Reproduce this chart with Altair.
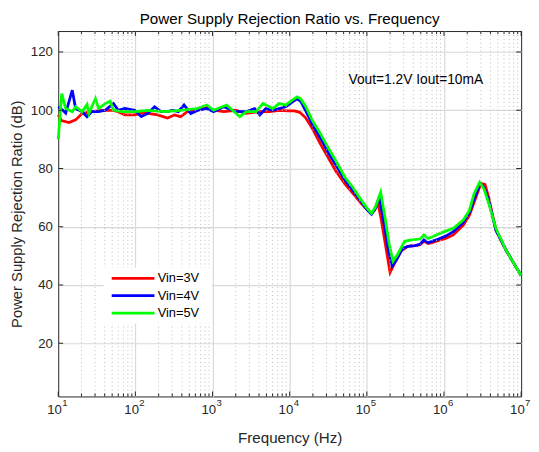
import altair as alt
import pandas as pd

# ---------------- data ----------------
series_names = ["Vin=3V", "Vin=4V", "Vin=5V"]
series_colors = ["#ff0000", "#0000ff", "#00ff00"]

freq_3v = [10, 11, 13.8, 16.8, 20.4, 27, 36.8, 50, 60, 73, 98, 120, 145, 195, 260, 318, 386, 470,
           631, 847, 1030, 1400, 2000, 2700, 4100, 5500, 7300, 9500, 11500, 13500, 16000, 19500,
           25000, 31600, 40000, 52000, 66000, 85000, 100000, 115000, 126000, 138000, 150000, 170000,
           200000, 230000, 276000, 340000, 420000, 490000, 550000, 620000, 700000, 850000, 1.05e6,
           1.32e6, 1.78e6, 2.14e6, 2.6e6, 3.0e6, 3.4e6, 3.8e6, 4.7e6, 6.3e6, 8e6, 1e7]
psrr_3v = [98.4, 96.5, 95.8, 96.7, 98.9, 99.5, 100, 100, 99.5, 98.4, 98.4, 99, 98.9, 98.4, 97.3, 98.4,
           97.8, 99.5, 100, 101.2, 100, 99.5, 100, 98.9, 99.5, 99.5, 100, 99.8, 99.8, 99.3, 97.5, 93.9,
           88.5, 83.7, 79, 74.7, 71.5, 68, 66, 64.6, 65.7, 68.5, 64, 55.5, 44.3, 47.6, 51.6, 53.3, 53.5,
           53.8, 55, 54.2, 54.5, 55.3, 56, 57.2, 60.6, 64, 70.2, 74.8, 74.5, 70, 58.9, 52.2, 47.5, 43.3]

freq_4v = [10, 11.5, 12.5, 15.2, 16.8, 20.4, 23.6, 27, 33.3, 40.6, 52, 60, 73, 98, 119, 145, 177, 215,
           260, 302, 360, 427, 520, 650, 847, 1030, 1400, 2000, 2700, 3500, 4100, 4900, 6000, 7300,
           8900, 11000, 12500, 14000, 16000, 19500, 25000, 31600, 40000, 52000, 66000, 85000, 100000,
           115000, 130000, 145000, 165000, 190000, 213000, 240000, 290000, 340000, 420000, 490000,
           550000, 620000, 700000, 850000, 1.05e6, 1.32e6, 1.78e6, 2.14e6, 2.5e6, 2.95e6, 3.3e6,
           3.8e6, 4.7e6, 6.3e6, 8e6, 1e7]
psrr_4v = [101.2, 100, 99, 106.9, 100.6, 99.5, 97.8, 99.5, 99.5, 100, 102.3, 100, 100.6, 100, 97.8,
           98.9, 101.2, 99.5, 99.5, 100, 99.5, 101.8, 98.9, 100, 100.6, 99.5, 101.2, 99.5, 99.5, 100.6,
           98.4, 100.6, 100, 100.6, 101.2, 103, 103.9, 103, 100, 95.3, 90.5, 85.5, 81, 76, 72.5, 68.5,
           66, 64.3, 66.5, 70.3, 62, 52, 46.5, 48.5, 52.5, 53.3, 53.5, 54, 55.5, 54.5, 55, 55.8, 56.8,
           58.3, 61.5, 65, 70, 75, 73.5, 69, 58.9, 52.2, 47.5, 43.3]

freq_5v = [10, 11.1, 12.5, 15.2, 16.8, 20.4, 23.6, 24.9, 30.3, 33.3, 40.6, 47.1, 51.9, 66.2, 98, 145,
           237, 386, 631, 847, 1030, 1523, 2254, 2742, 3680, 4487, 6014, 7311, 8897, 10800, 12500,
           13800, 16000, 19500, 25000, 31600, 40000, 52000, 66000, 83000, 100000, 115000, 130000,
           151000, 170000, 195000, 218000, 250000, 309000, 380000, 490000, 550000, 620000, 700000,
           850000, 1.05e6, 1.32e6, 1.78e6, 2.14e6, 2.45e6, 2.9e6, 3.3e6, 3.8e6, 4.7e6, 6.3e6, 8e6, 1e7]
psrr_5v = [90, 105.7, 100.6, 99.5, 101.2, 99.5, 102, 98.9, 104, 100.6, 102.3, 103.1, 100.1, 99.5, 99.5,
           100, 99.5, 100, 100.6, 101.8, 100, 101.8, 97.8, 99.5, 99.5, 102.3, 100.6, 102.3, 101.8,
           103.5, 104.6, 104, 101.5, 96.7, 92, 87.1, 82.5, 77, 73.5, 69.5, 66.5, 64.6, 67, 71.9, 64,
           54, 48.2, 50.5, 55, 55.5, 55.8, 57.2, 56, 56.5, 57.5, 58.5, 59.5, 62.3, 65.7, 71.3, 75.3,
           73, 68, 59.5, 52.2, 47.5, 43.3]

decade_exponents = ["1", "2", "3", "4", "5", "6", "7"]
y_tick_values = [20, 40, 60, 80, 100, 120]
annotation_text = ["Vout=1.2V Iout=10mA"]
annotation_freq = [57800]
annotation_psrr = [110.2]

# ---------------- tables ----------------
rows = []
for name, fs, vs in zip(series_names, [freq_3v, freq_4v, freq_5v], [psrr_3v, psrr_4v, psrr_5v]):
    for f, v in zip(fs, vs):
        rows.append({"series": name, "freq": f, "psrr": v})
df = pd.DataFrame(rows)

decades = [10 ** int(e) for e in decade_exponents]
minors = [m * 10 ** k for k in range(1, 7) for m in range(2, 10)]
dec_df = pd.DataFrame({"f": decades, "base": ["10"] * len(decades), "exp": decade_exponents})
minor_df = pd.DataFrame({"f": minors})
ytick_df = pd.DataFrame({"v": y_tick_values})
ann_df = pd.DataFrame({"f": annotation_freq, "v": annotation_psrr, "t": annotation_text})

# ---------------- styling ----------------
FONT = "Liberation Sans"
W, H = 470, 371
AX = "#262626"
xscale = alt.Scale(type="log", domain=[10, 1e7], nice=False)
yscale = alt.Scale(domain=[1.74, 127.2], nice=False, zero=False)

xaxis = alt.Axis(values=decades[1:-1], labels=False, ticks=False, domain=False, grid=True,
                 gridColor="#d9d9d9", gridWidth=1.2, title="Frequency (Hz)", titleFont=FONT,
                 titleFontSize=15.4, titleFontWeight="normal", titleColor=AX, titleX=W / 2,
                 titleY=47, titleBaseline="alphabetic", titleAlign="center")
yaxis = alt.Axis(values=y_tick_values, ticks=False, domain=False, grid=True, gridColor="#d9d9d9",
                 gridWidth=1.2, labelFont=FONT, labelFontSize=13.4, labelColor=AX, labelPadding=6,
                 title="Power Supply Rejection Ratio (dB)", titleFont=FONT, titleFontSize=15,
                 titleFontWeight="normal", titleColor=AX, titleX=-37.5, titleY=H / 2, titleAngle=-90,
                 titleBaseline="alphabetic", titleAlign="center")


def X(field):
    return alt.X(field, scale=xscale, axis=xaxis)


def Y(field):
    return alt.Y(field, scale=yscale, axis=yaxis)


layers = []

# data lines (first, so the axes are defined here)
layers.append(alt.Chart(df).mark_line(strokeWidth=2.8).encode(
    x=X("freq:Q"),
    y=Y("psrr:Q"),
    color=alt.Color("series:N", scale=alt.Scale(domain=series_names, range=series_colors), legend=None),
))

# minor dotted grid
layers.append(alt.Chart(minor_df).mark_rule(color="#bdbdbd", strokeWidth=1, strokeDash=[1, 3]).encode(
    x=X("f:Q"), y=alt.value(0), y2=alt.value(H)))

# legend (manual guide)
layers.append(alt.Chart(ann_df).mark_rect(fill="white").encode(
    x=alt.value(46), x2=alt.value(156), y=alt.value(240), y2=alt.value(297)))
for i, (name, col) in enumerate(zip(series_names, series_colors)):
    yy = 251 + i * 17.7
    layers.append(alt.Chart(ann_df).mark_rule(color=col, strokeWidth=2.8).encode(
        x=alt.value(54.3), x2=alt.value(97.7), y=alt.value(yy)))
    layers.append(alt.Chart(ann_df).mark_text(text=name, align="left", baseline="middle", font=FONT,
                                              fontSize=13, color="black").encode(
        x=alt.value(101), y=alt.value(yy)))

# annotation
layers.append(alt.Chart(ann_df).mark_text(align="left", baseline="middle", font=FONT, fontSize=14,
                                          color="black").encode(
    x=X("f:Q"), y=Y("v:Q"), text="t:N"))

# inward ticks
tick_style = dict(color=AX, strokeWidth=1)
layers.append(alt.Chart(dec_df).mark_rule(**tick_style).encode(
    x=X("f:Q"), y=alt.value(H - 5), y2=alt.value(H)))
layers.append(alt.Chart(dec_df).mark_rule(**tick_style).encode(
    x=X("f:Q"), y=alt.value(0), y2=alt.value(5)))
layers.append(alt.Chart(minor_df).mark_rule(**tick_style).encode(
    x=X("f:Q"), y=alt.value(H - 3), y2=alt.value(H)))
layers.append(alt.Chart(minor_df).mark_rule(**tick_style).encode(
    x=X("f:Q"), y=alt.value(0), y2=alt.value(3)))
layers.append(alt.Chart(ytick_df).mark_rule(**tick_style).encode(
    y=Y("v:Q"), x=alt.value(0), x2=alt.value(5)))
layers.append(alt.Chart(ytick_df).mark_rule(**tick_style).encode(
    y=Y("v:Q"), x=alt.value(W - 5), x2=alt.value(W)))

# x tick labels 10^k
layers.append(alt.Chart(dec_df).mark_text(align="center", baseline="alphabetic", font=FONT,
                                          fontSize=13.4, color=AX, dx=-3.8).encode(
    x=X("f:Q"), y=alt.value(H + 17.8), text="base:N"))
layers.append(alt.Chart(dec_df).mark_text(align="left", baseline="alphabetic", font=FONT,
                                          fontSize=9.7, color=AX, dx=4.0).encode(
    x=X("f:Q"), y=alt.value(H + 10), text="exp:N"))

chart = alt.layer(*layers).properties(
    width=W, height=H,
    title=alt.TitleParams("Power Supply Rejection Ratio vs. Frequency", font=FONT, fontSize=15.4,
                          fontWeight="normal", color="black", anchor="middle",
                          baseline="alphabetic", offset=6, dy=15),
    autosize=alt.AutoSizeParams(type="none"),
    padding={"left": 51, "top": 20, "right": 10, "bottom": 53},
).configure_view(stroke=AX, strokeWidth=1)

chart.save("out.html", embed_options={"renderer": "svg", "actions": False})
